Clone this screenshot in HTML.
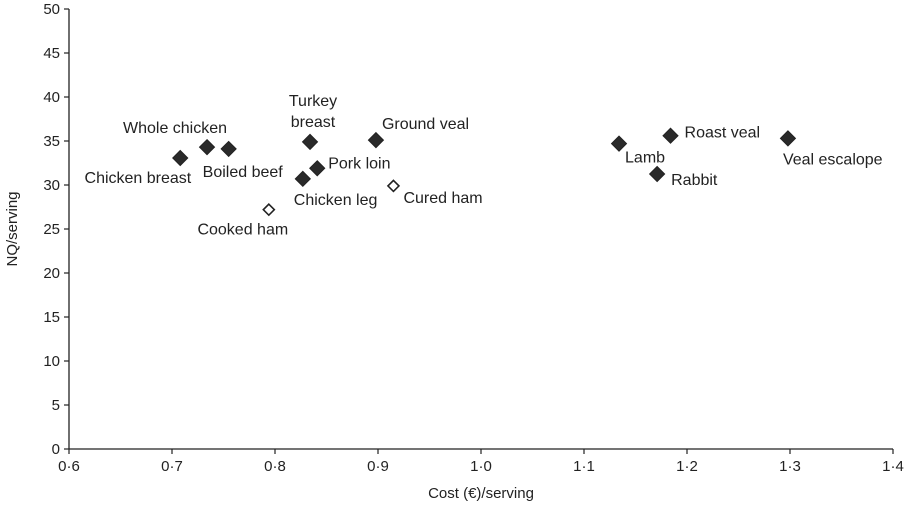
<!DOCTYPE html>
<html><head><meta charset="utf-8"><style>
body{margin:0;background:#fff;}
svg text{font-family:"Liberation Sans",Arial,sans-serif;fill:#222;}
</style></head><body>
<svg id="chart" width="906" height="505" xmlns="http://www.w3.org/2000/svg"></svg>
<script>
const names=["Chicken breast","Whole chicken","Boiled beef","Cooked ham","Chicken leg","Turkey breast","Pork loin","Ground veal","Cured ham","Lamb","Rabbit","Roast veal","Veal escalope"];
const costs=[0.708,0.734,0.755,0.794,0.827,0.834,0.841,0.898,0.915,1.134,1.171,1.184,1.298];
const nq=[33.07,34.3,34.1,27.2,30.7,34.9,31.9,35.1,29.9,34.7,31.25,35.6,35.3];
const openMarker=[false,false,false,true,false,false,false,false,true,false,false,false,false];
const xTicks=["0·6","0·7","0·8","0·9","1·0","1·1","1·2","1·3","1·4"];
const yTicks=[0,5,10,15,20,25,30,35,40,45,50];
// label layout (offsets from point, anchor)
const lab=[[11,25,"end"],[-32,-14,"middle"],[-26,28,"start"],[-26,25,"middle"],[-9,26,"start"],[3,-15,"middle"],[11,0,"start"],[6,-11,"start"],[10,17,"start"],[6,19,"start"],[14,11,"start"],[14,2,"start"],[-5,26,"start"]];
const X0=69,X1=893,Y0=449,Y1=9;
const xs=v=>X0+(v-0.6)/0.8*(X1-X0);
const ys=v=>Y0-(v/50)*(Y0-Y1);
const svg=document.getElementById('chart');
const NS="http://www.w3.org/2000/svg";
function mk(t,a,txt){const e=document.createElementNS(NS,t);for(const k in a)e.setAttribute(k,a[k]);if(txt!=null)e.textContent=txt;svg.appendChild(e);return e;}
let e;
e=mk('line',{x1:X0,y1:Y1,x2:X0,y2:Y0,stroke:'#222','stroke-width':1.3});


e=mk('line',{x1:X0,y1:Y0,x2:X1,y2:Y0,stroke:'#222','stroke-width':1.3});


xTicks.forEach((t,i)=>{const x=X0+i*(X1-X0)/(xTicks.length-1);
 e=mk('line',{x1:x,y1:Y0,x2:x,y2:Y0+5,stroke:'#222','stroke-width':1.2});
 
 
 e=mk('text',{x:x,y:Y0+22,'text-anchor':'middle','font-size':15},t);
 
 
});
yTicks.forEach(t=>{const y=ys(t);
 e=mk('line',{x1:X0-5,y1:y,x2:X0,y2:y,stroke:'#222','stroke-width':1.2});
 
 
 e=mk('text',{x:X0-9,y:y+5,'text-anchor':'end','font-size':15},String(t));
 
 
});
e=mk('text',{x:481,y:498,'text-anchor':'middle','font-size':15},"Cost (€)/serving");


e=mk('text',{x:0,y:0,'text-anchor':'middle','font-size':15,transform:'translate(17,229) rotate(-90)'},"NQ/serving");


names.forEach((n,i)=>{const x=xs(costs[i]),y=ys(nq[i]);const r=openMarker[i]?5.5:7.5;
 e=mk('polygon',{points:`${x},${y-r} ${x+r},${y} ${x},${y+r} ${x-r},${y}`,fill:openMarker[i]?'#fff':'#2a2a2a',stroke:'#222','stroke-width':openMarker[i]?1.6:1});
 
 
 const L=lab[i];
 if(n==="Turkey breast"){
  e=mk('text',{x:x+L[0],y:y-36,'text-anchor':'middle','font-size':16},"Turkey");
  
  
  e=mk('text',{x:x+L[0],y:y+L[1],'text-anchor':'middle','font-size':16},"breast");
  
  
 } else {
  e=mk('text',{x:x+L[0],y:y+L[1],'text-anchor':L[2],'font-size':16},n);
  
  
 }
});
</script>
</body></html>
